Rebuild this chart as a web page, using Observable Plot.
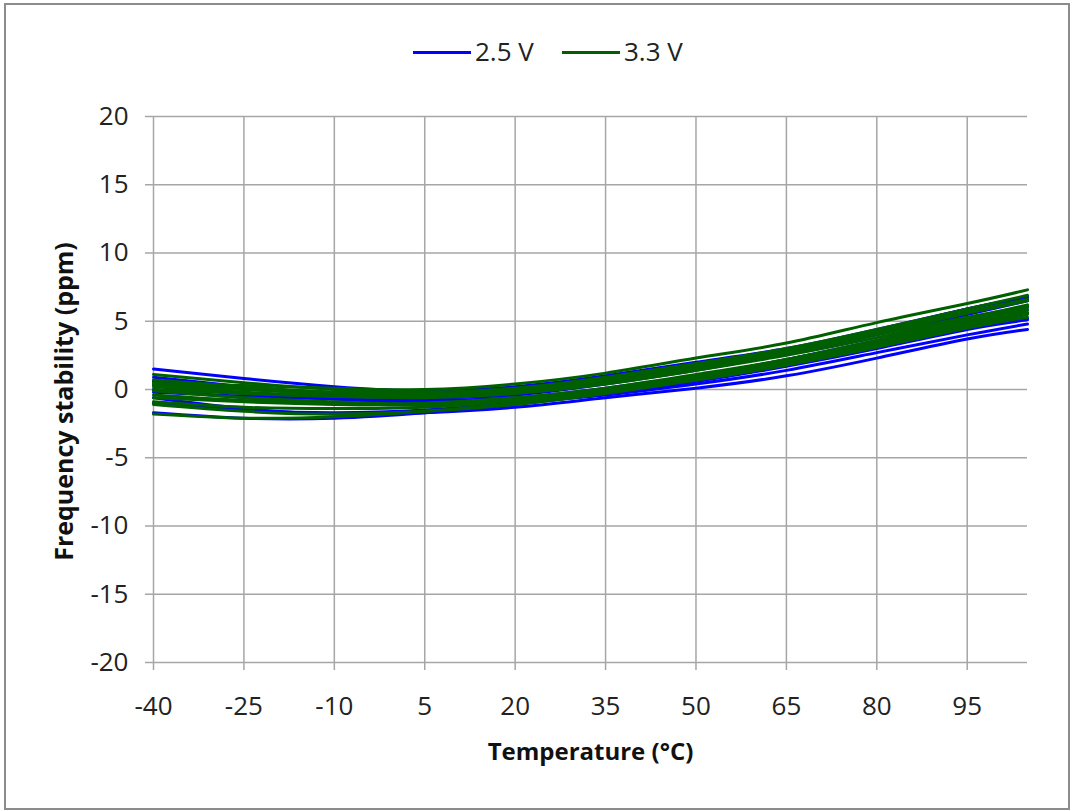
<!DOCTYPE html>
<html>
<head>
<meta charset="utf-8">
<script src="https://cdn.jsdelivr.net/npm/d3@7"></script>
<script src="https://cdn.jsdelivr.net/npm/@observablehq/plot@0.6"></script>
<style>
  html, body { margin: 0; padding: 0; background: #fff; }
  body { width: 1074px; height: 811px; position: relative; overflow: hidden; font-family: "Open Sans", sans-serif; }
  #frame { position: absolute; left: 4px; top: 3px; width: 1062px; height: 803px; border: 2px solid #8c8c8c; pointer-events: none; }
  #legend { height: 80px; position: relative; }
  .item { position: absolute; top: 33px; font-size: 26px; color: #222; line-height: 36px; }
  .swatch { position: absolute; top: 18px; height: 3px; width: 58px; }
  .label { position: absolute; left: 62px; top: 0; white-space: nowrap; }
</style>
</head>
<body>
<div id="legend"></div>
<div id="chart"></div>
<div id="frame"></div>
<script>
// Temperatures (°C) at which each curve is read
const temps = [-40, -25, -10, 5, 20, 35, 50, 65, 80, 95, 105];

// 2.5 V curves (ppm)
const v25 = [
  [1.5, 0.8, 0.2, -0.1, 0.2, 1.0, 2.0, 3.0, 4.4, 5.9, 6.8],
  [0.6, 0.1, -0.4, -0.6, -0.4, 0.4, 1.4, 2.6, 4.0, 5.5, 6.5],
  [-0.2, -0.5, -0.7, -0.8, -0.6, 0.1, 1.0, 2.2, 3.6, 5.0, 6.0],
  [-1.0, -1.5, -1.7, -1.5, -1.0, -0.3, 0.6, 1.8, 3.2, 4.7, 5.6],
  [0.3, -0.3, -0.7, -1.0, -0.9, -0.4, 0.4, 1.4, 2.7, 4.0, 4.8],
  [-0.6, -1.4, -1.8, -1.7, -1.3, -0.6, 0.1, 1.0, 2.3, 3.7, 4.4],
  [0.0, -0.6, -1.0, -1.1, -0.8, -0.1, 0.8, 1.9, 3.2, 4.5, 5.2],
  [-1.7, -2.1, -2.1, -1.7, -1.1, -0.3, 0.6, 1.7, 3.0, 4.4, 5.1],
  [0.9, 0.2, -0.4, -0.6, -0.3, 0.6, 1.7, 2.9, 4.3, 5.9, 6.7]
];

// 3.3 V curves (ppm)
const v33 = [
  [0.4, 0.3, 0.1, 0.0, 0.4, 1.2, 2.3, 3.4, 4.9, 6.3, 7.3],
  [1.1, 0.5, 0.0, -0.2, 0.1, 0.9, 1.9, 3.0, 4.4, 5.9, 6.9],
  [-1.8, -2.1, -2.0, -1.6, -1.0, -0.2, 0.7, 1.8, 3.1, 4.5, 5.3],
  [-0.9, -1.3, -1.4, -1.3, -0.8, 0.0, 1.0, 2.2, 3.5, 4.9, 5.8],
  [0.2, -0.2, -0.5, -0.6, -0.3, 0.4, 1.4, 2.5, 3.8, 5.2, 6.2],
  [-0.4, -0.8, -1.0, -1.0, -0.6, 0.1, 1.1, 2.2, 3.6, 5.0, 6.0],
  [0.7, 0.2, -0.2, -0.4, -0.2, 0.5, 1.5, 2.7, 4.1, 5.6, 6.6],
  [-0.1, -0.6, -0.9, -1.1, -0.8, -0.1, 0.8, 1.9, 3.3, 4.7, 5.6],
  [0.5, 0.0, -0.3, -0.4, -0.1, 0.6, 1.6, 2.7, 4.0, 5.3, 6.1],
  [-1.1, -1.6, -1.8, -1.6, -1.1, -0.3, 0.7, 1.8, 3.2, 4.6, 5.5],
  [0.0, -0.3, -0.5, -0.5, -0.2, 0.6, 1.6, 2.8, 4.2, 5.6, 6.5],
  [-0.6, -0.9, -1.1, -1.1, -0.7, 0.0, 0.9, 2.0, 3.4, 4.8, 5.8],
  [0.3, 0.0, -0.2, -0.3, 0.0, 0.8, 1.8, 2.9, 4.3, 5.7, 6.6]
];

const seriesNames = ["2.5 V", "3.3 V"];
const seriesColors = ["#0000ff", "#006000"];
const xTicks = [-40, -25, -10, 5, 20, 35, 50, 65, 80, 95];
const yTicks = [-20, -15, -10, -5, 0, 5, 10, 15, 20];
const xDomain = [-40, 105];
const yDomain = [-20, 20];

const rows = [];
[v25, v33].forEach((set, si) => {
  set.forEach((vals, ci) => {
    vals.forEach((v, i) => rows.push({series: seriesNames[si], id: si + "-" + ci, t: temps[i], ppm: v}));
  });
});

const grid = "#a6a6a6";
const fmt = d => String(d);
const chart = Plot.plot({
  width: 1074,
  height: 731,
  marginTop: 36,
  marginBottom: 149,
  marginLeft: 153,
  marginRight: 47,
  style: {fontFamily: "Open Sans", fontSize: "26px", color: "#222", background: "transparent"},
  x: {domain: xDomain},
  y: {domain: yDomain},
  color: {domain: seriesNames, range: seriesColors},
  marks: [
    Plot.ruleY(yTicks, {y: d => d, x1: xDomain[0], x2: xDomain[1], stroke: grid, strokeWidth: 1.5}),
    Plot.ruleX(xTicks, {x: d => d, y1: yDomain[0], y2: yDomain[1], stroke: grid, strokeWidth: 1.5}),
    Plot.axisY({ticks: yTicks, tickFormat: fmt, tickSize: 8, tickPadding: 17, stroke: grid, strokeWidth: 1.5, fill: "#222", label: null, fontSize: 26}),
    Plot.axisX({ticks: xTicks, tickFormat: fmt, tickSize: 8, tickPadding: 26, stroke: grid, strokeWidth: 1.5, fill: "#222", label: null, fontSize: 26}),
    Plot.line(rows.filter(d => d.series === "2.5 V"), {x: "t", y: "ppm", z: "id", stroke: "series", strokeWidth: 3, curve: "natural"}),
    Plot.line(rows.filter(d => d.series === "3.3 V"), {x: "t", y: "ppm", z: "id", stroke: "series", strokeWidth: 3, curve: "natural"}),
    Plot.text(["Temperature (°C)"], {text: d => d, frameAnchor: "bottom", lineAnchor: "middle", dy: 90, fontSize: 24, fontWeight: "bold", fill: "#111"}),
    Plot.text(["Frequency stability (ppm)"], {text: d => d, frameAnchor: "left", textAnchor: "middle", lineAnchor: "middle", dx: -89, dy: 12, rotate: -90, fontSize: 25, fontWeight: "bold", fill: "#111"})
  ]
});
document.getElementById("chart").appendChild(chart);

const legend = document.getElementById("legend");
const legendX = [413, 562];
seriesNames.forEach((name, i) => {
  const item = document.createElement("div");
  item.className = "item";
  item.style.left = legendX[i] + "px";
  item.innerHTML = `<div class="swatch" style="background:${seriesColors[i]}"></div><span class="label">${name}</span>`;
  legend.appendChild(item);
});
</script>
</body>
</html>
